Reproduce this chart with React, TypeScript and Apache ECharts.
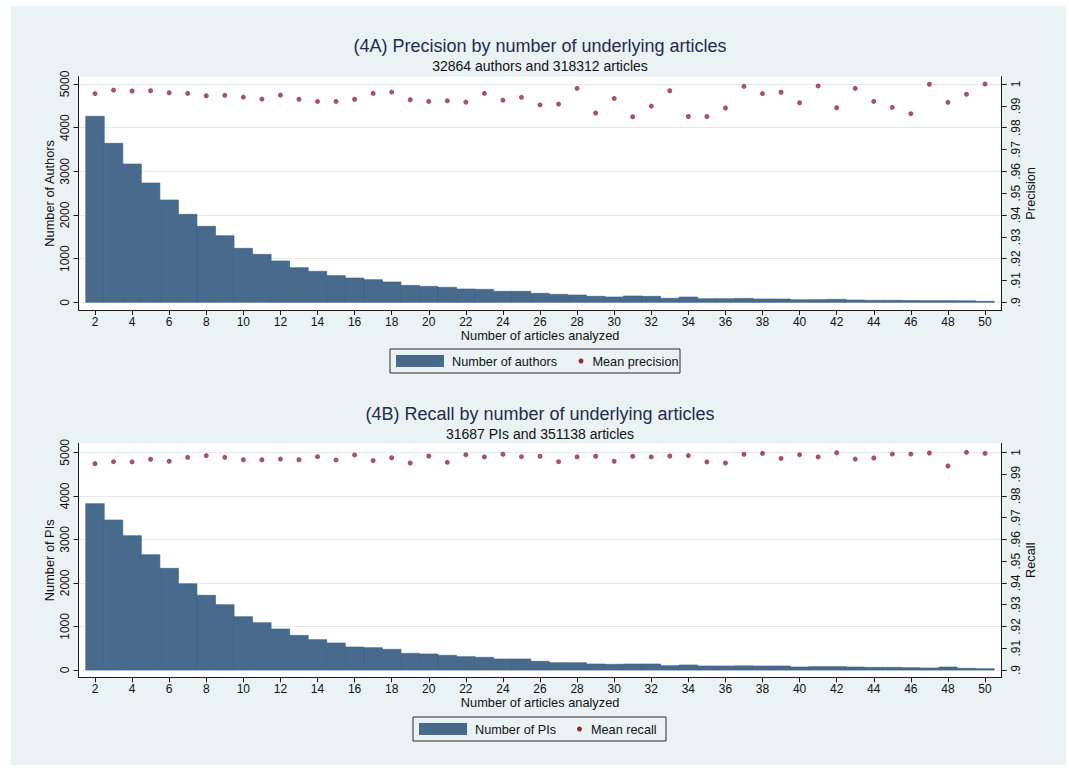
import React, { useEffect, useRef } from "react";
import * as echarts from "echarts";

// ---------- data ----------
const ARTICLES = [
  2, 3, 4, 5, 6, 7, 8, 9, 10, 11, 12, 13, 14, 15, 16, 17, 18, 19, 20, 21, 22, 23, 24, 25,
  26, 27, 28, 29, 30, 31, 32, 33, 34, 35, 36, 37, 38, 39, 40, 41, 42, 43, 44, 45, 46, 47, 48, 49, 50,
];

const AUTHORS = [
  4260, 3641, 3168, 2733, 2344, 2015, 1740, 1527, 1237, 1099, 947, 794, 710, 611, 557, 519, 466, 389,
  366, 344, 305, 298, 252, 252, 206, 183, 168, 137, 122, 145, 137, 92, 122, 84, 84, 90, 76, 76, 61,
  61, 69, 53, 46, 46, 42, 38, 38, 35, 23,
];

const PRECISION = [
  0.9956, 0.9972, 0.9968, 0.9969, 0.996, 0.9957, 0.9946, 0.9948, 0.994, 0.9931, 0.9949, 0.993,
  0.992, 0.992, 0.993, 0.9957, 0.9963, 0.9928, 0.992, 0.9923, 0.9917, 0.9957, 0.9926, 0.9939,
  0.9904, 0.9908, 0.998, 0.9867, 0.9934, 0.985, 0.9899, 0.9969, 0.9851, 0.9851, 0.989, 0.9989,
  0.9956, 0.9962, 0.9914, 0.9991, 0.9891, 0.998, 0.992, 0.9893, 0.9864, 0.9999, 0.9916, 0.9953, 1.0,
];

const PIS = [
  3821, 3446, 3086, 2649, 2335, 1983, 1715, 1501, 1225, 1087, 942, 796, 697, 620, 528, 513, 475, 383,
  368, 337, 306, 291, 253, 253, 199, 168, 168, 138, 130, 138, 138, 100, 115, 92, 92, 96, 92, 92, 69,
  77, 77, 69, 61, 61, 54, 46, 69, 38, 31,
];

const RECALL = [
  0.9948, 0.9957, 0.9956, 0.9968, 0.9959, 0.9977, 0.9985, 0.9977, 0.9966, 0.9966, 0.9969, 0.9966,
  0.998, 0.9965, 0.9988, 0.9962, 0.9975, 0.9951, 0.9983, 0.9954, 0.9989, 0.9979, 0.9991, 0.998,
  0.9982, 0.9957, 0.9979, 0.9982, 0.9959, 0.9982, 0.9979, 0.9983, 0.9985, 0.9956, 0.9951, 0.9991,
  0.9995, 0.9972, 0.9989, 0.9979, 0.9998, 0.9969, 0.9974, 0.9992, 0.9992, 0.9997, 0.9937, 1.0, 0.9995,
];

const X_TICKS = [2, 4, 6, 8, 10, 12, 14, 16, 18, 20, 22, 24, 26, 28, 30, 32, 34, 36, 38, 40, 42, 44, 46, 48, 50];
const COUNT_TICKS = [0, 1000, 2000, 3000, 4000, 5000];
const SHARE_TICKS = [0.9, 0.91, 0.92, 0.93, 0.94, 0.95, 0.96, 0.97, 0.98, 0.99, 1];

const PANEL_A = {
  title: "(4A) Precision by number of underlying articles",
  subtitle: "32864 authors and 318312 articles",
  countName: "Number of Authors",
  shareName: "Precision",
  barLegend: "Number of authors",
  dotLegend: "Mean precision",
};
const PANEL_B = {
  title: "(4B) Recall by number of underlying articles",
  subtitle: "31687 PIs and 351138 articles",
  countName: "Number of PIs",
  shareName: "Recall",
  barLegend: "Number of PIs",
  dotLegend: "Mean recall",
};
const X_NAME = "Number of articles analyzed";

// ---------- styles ----------
const FONT = "'Liberation Sans', Arial, Helvetica, sans-serif";
const BAR_COLOR = "#486a8c";
const BAR_EDGE = "#3e5f80";
const DOT_COLOR = "#902b34";
const TITLE_COLOR = "#1f2a55";
const TEXT_COLOR = "#111111";
const GRID_LINE = "#e3eaec";
const BG = "#eaf2f3";

const shareLabel = (v: number) => {
  const n = Math.round(v * 100);
  if (n === 100) return "1";
  if (n % 10 === 0) return "." + n / 10;
  return "." + n;
};

export default function App() {
  const ref = useRef<HTMLDivElement>(null);

  useEffect(() => {
    document.body.style.margin = "0";
    document.body.style.overflow = "hidden";
    if (!ref.current) return;
    const chart = echarts.init(ref.current, undefined, { renderer: "svg" });

    const gridLeft = 78.5;
    const gridWidth = 923.2;
    const panels = [
      { p: PANEL_A, counts: AUTHORS, shares: PRECISION, top: 76.7, height: 233.3, cMin: -176, cMax: 5167, titleTop: 37 },
      { p: PANEL_B, counts: PIS, shares: RECALL, top: 443.3, height: 234, cMin: -168, cMax: 5207, titleTop: 405 },
    ];

    const axisLineStyle = { show: true, onZero: false, lineStyle: { color: "#1a1a1a", width: 1 } };
    const labelStyle = { color: TEXT_COLOR, fontSize: 12, fontFamily: FONT };
    const nameStyle = { color: TEXT_COLOR, fontSize: 12.8, fontFamily: FONT };

    const grids: any[] = [];
    const xAxes: any[] = [];
    const yAxes: any[] = [];
    const series: any[] = [];
    const titles: any[] = [];

    panels.forEach((pp, i) => {
      grids.push({
        left: gridLeft,
        top: pp.top,
        width: gridWidth,
        height: pp.height,
        show: true,
        backgroundColor: "#ffffff",
        borderWidth: 0,
        containLabel: false,
        outerBoundsMode: "none",
      });
      titles.push({
        text: pp.p.title,
        subtext: pp.p.subtitle,
        left: 540,
        textAlign: "center",
        top: pp.titleTop,
        itemGap: 3.5,
        padding: 0,
        textStyle: { color: TITLE_COLOR, fontSize: 18, fontWeight: "normal", fontFamily: FONT },
        subtextStyle: { color: TEXT_COLOR, fontSize: 14, fontFamily: FONT },
      });
      xAxes.push({
        gridIndex: i,
        type: "value",
        min: 1.11,
        max: 50.9,
        axisLine: axisLineStyle,
        axisTick: { show: true, customValues: X_TICKS, length: 5, lineStyle: { color: "#1a1a1a" } },
        axisLabel: { ...labelStyle, customValues: X_TICKS, margin: 6, formatter: (v: number) => String(v) },
        splitLine: { show: false },
        name: X_NAME,
        nameLocation: "middle",
        nameGap: 19,
        nameMoveOverlap: false,
        nameTextStyle: nameStyle,
      });
      const sMin = 0.9 + pp.cMin / 50000;
      const sMax = 0.9 + pp.cMax / 50000;
      yAxes.push({
        gridIndex: i,
        type: "value",
        position: "left",
        min: pp.cMin,
        max: pp.cMax,
        axisLine: axisLineStyle,
        axisTick: { show: true, customValues: COUNT_TICKS, length: 5, lineStyle: { color: "#1a1a1a" } },
        axisLabel: { ...labelStyle, customValues: COUNT_TICKS, rotate: 90, margin: 8, formatter: (v: number) => String(v) },
        splitLine: { show: true, customValues: COUNT_TICKS, lineStyle: { color: GRID_LINE, width: 1 } },
        name: pp.p.countName,
        nameLocation: "middle",
        nameGap: 23,
        nameMoveOverlap: false,
        nameTextStyle: nameStyle,
      });
      yAxes.push({
        gridIndex: i,
        type: "value",
        position: "right",
        min: sMin,
        max: sMax,
        axisLine: axisLineStyle,
        axisTick: { show: true, customValues: SHARE_TICKS, length: 5, lineStyle: { color: "#1a1a1a" } },
        axisLabel: { ...labelStyle, customValues: SHARE_TICKS, rotate: 90, margin: 8, formatter: shareLabel },
        splitLine: { show: false },
        name: pp.p.shareName,
        nameLocation: "middle",
        nameGap: 22,
        nameMoveOverlap: false,
        nameTextStyle: nameStyle,
      });
      series.push({
        type: "custom",
        name: pp.p.barLegend,
        coordinateSystem: "cartesian2d",
        xAxisIndex: i,
        yAxisIndex: i * 2,
        encode: { x: 0, y: 1 },
        data: ARTICLES.map((a, k) => [a, pp.counts[k]]),
        renderItem: (_params: any, api: any) => {
          const x = api.value(0) as number;
          const y = api.value(1) as number;
          const tl = api.coord([x - 0.5, y]);
          const br = api.coord([x + 0.5, 0]);
          return {
            type: "rect",
            shape: { x: tl[0], y: tl[1], width: br[0] - tl[0], height: br[1] - tl[1] },
            style: { fill: BAR_COLOR, stroke: BAR_EDGE, lineWidth: 0.6 },
          };
        },
        z: 2,
      });
      series.push({
        type: "scatter",
        name: pp.p.dotLegend,
        xAxisIndex: i,
        yAxisIndex: i * 2 + 1,
        symbol: "circle",
        symbolSize: 5,
        itemStyle: { color: DOT_COLOR },
        data: ARTICLES.map((a, k) => [a, pp.shares[k]]),
        z: 3,
      });
    });

    const legendGroup = (x: number, y: number, w: number, dotX: number, textA: string, textB: string) => ({
      type: "group",
      children: [
        { type: "rect", shape: { x, y, width: w, height: 24 }, style: { fill: "transparent", stroke: "#2a2a2a", lineWidth: 1 } },
        { type: "rect", shape: { x: x + 6, y: y + 6, width: 48, height: 12 }, style: { fill: BAR_COLOR } },
        { type: "text", x: x + 62, y: y + 12.5, style: { text: textA, fill: TEXT_COLOR, font: `12.7px ${FONT}`, verticalAlign: "middle" } },
        { type: "circle", shape: { cx: dotX, cy: y + 12, r: 2.5 }, style: { fill: DOT_COLOR } },
        { type: "text", x: dotX + 11.5, y: y + 12.5, style: { text: textB, fill: TEXT_COLOR, font: `12.7px ${FONT}`, verticalAlign: "middle" } },
      ],
    });

    chart.setOption({
      animation: false,
      backgroundColor: "transparent",
      textStyle: { fontFamily: FONT },
      title: titles,
      grid: grids,
      xAxis: xAxes,
      yAxis: yAxes,
      series,
      graphic: [
        legendGroup(390, 349, 290, 581, PANEL_A.barLegend, PANEL_A.dotLegend),
        legendGroup(413, 717, 253, 579.5, PANEL_B.barLegend, PANEL_B.dotLegend),
      ],
    });

    return () => chart.dispose();
  }, []);

  return (
    <div style={{ position: "relative", width: 1069, height: 770, background: "#ffffff", overflow: "hidden" }}>
      <div style={{ position: "absolute", left: 11, top: 6, width: 1055, height: 759, background: BG }} />
      <div ref={ref} style={{ position: "absolute", left: 0, top: 0, width: 1069, height: 770 }} />
    </div>
  );
}
